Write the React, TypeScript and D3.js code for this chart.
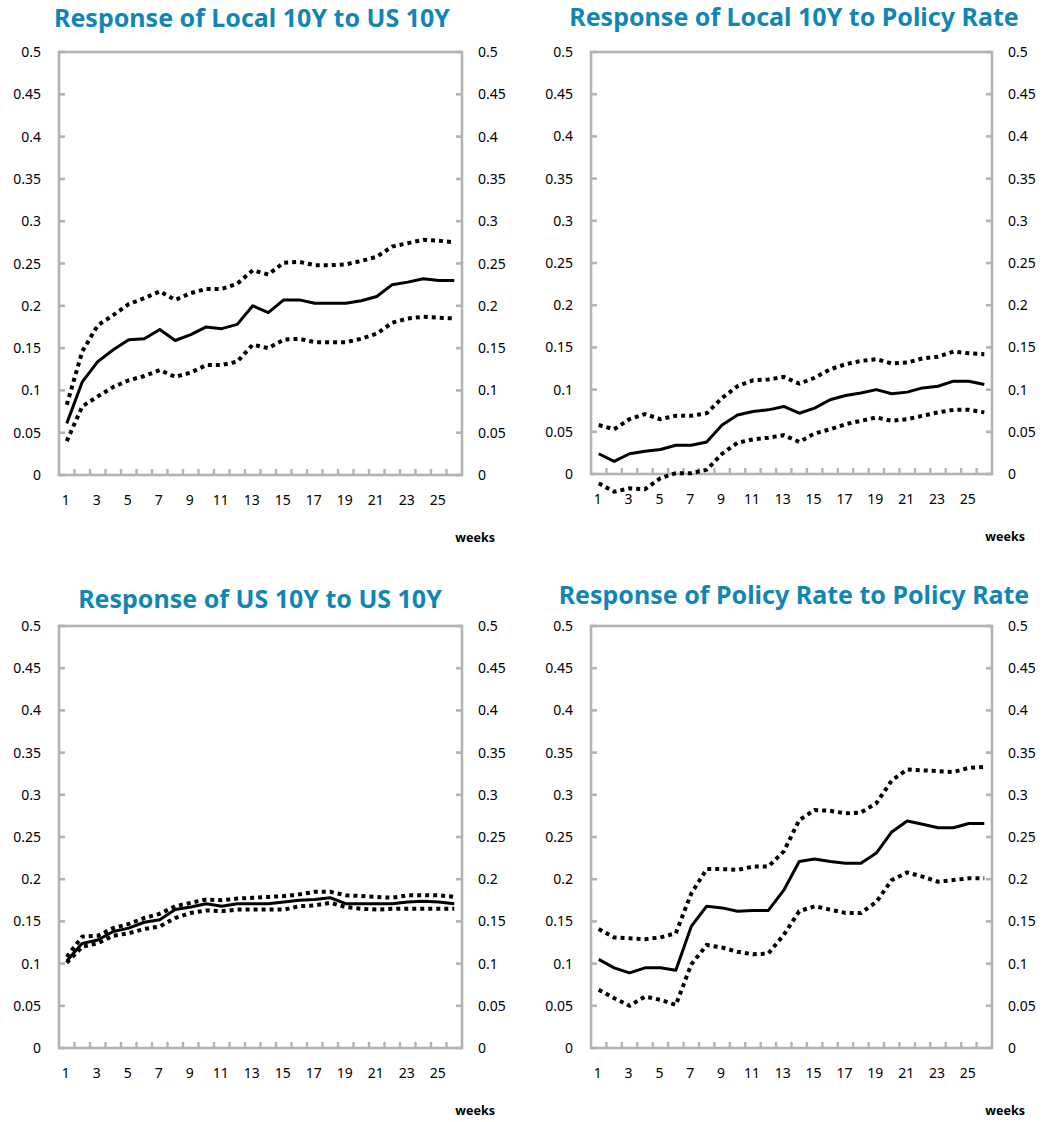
import React from "react";
import * as d3 from "d3";

// weeks after the shock
const weeks = [1, 2, 3, 4, 5, 6, 7, 8, 9, 10, 11, 12, 13, 14, 15, 16, 17, 18, 19, 20, 21, 22, 23, 24, 25, 26];
const weekLabels = [1, 3, 5, 7, 9, 11, 13, 15, 17, 19, 21, 23, 25];
const yTicks = [0, 0.05, 0.1, 0.15, 0.2, 0.25, 0.3, 0.35, 0.4, 0.45, 0.5];

// Response of Local 10Y to US 10Y
const local10yUs10y = [0.061, 0.110, 0.134, 0.148, 0.160, 0.161, 0.172, 0.159, 0.166, 0.175, 0.173, 0.178, 0.200, 0.192, 0.207, 0.207, 0.203, 0.203, 0.203, 0.206, 0.211, 0.225, 0.228, 0.232, 0.230, 0.230];
const local10yUs10yHi = [0.083, 0.146, 0.177, 0.189, 0.202, 0.209, 0.217, 0.207, 0.215, 0.220, 0.220, 0.226, 0.242, 0.237, 0.251, 0.252, 0.248, 0.248, 0.249, 0.253, 0.258, 0.270, 0.274, 0.278, 0.277, 0.275];
const local10yUs10yLo = [0.040, 0.081, 0.093, 0.104, 0.112, 0.117, 0.124, 0.116, 0.121, 0.130, 0.130, 0.134, 0.154, 0.150, 0.160, 0.161, 0.157, 0.157, 0.157, 0.161, 0.167, 0.180, 0.185, 0.187, 0.186, 0.185];

// Response of Local 10Y to Policy Rate
const local10yPolicy = [0.024, 0.015, 0.024, 0.027, 0.029, 0.034, 0.034, 0.038, 0.058, 0.070, 0.074, 0.076, 0.080, 0.072, 0.078, 0.088, 0.093, 0.096, 0.100, 0.095, 0.097, 0.102, 0.104, 0.110, 0.110, 0.106];
const local10yPolicyHi = [0.058, 0.053, 0.065, 0.071, 0.065, 0.069, 0.069, 0.072, 0.090, 0.104, 0.111, 0.112, 0.115, 0.107, 0.114, 0.124, 0.130, 0.134, 0.136, 0.131, 0.132, 0.137, 0.139, 0.145, 0.143, 0.142];
const local10yPolicyLo = [-0.011, -0.021, -0.017, -0.018, -0.005, 0.001, 0.001, 0.005, 0.024, 0.037, 0.041, 0.043, 0.046, 0.038, 0.048, 0.053, 0.059, 0.063, 0.067, 0.063, 0.065, 0.069, 0.073, 0.076, 0.076, 0.073];

// Response of US 10Y to US 10Y
const us10yUs10y = [0.103, 0.124, 0.128, 0.138, 0.142, 0.149, 0.152, 0.164, 0.167, 0.171, 0.168, 0.171, 0.171, 0.171, 0.173, 0.175, 0.176, 0.178, 0.171, 0.171, 0.171, 0.171, 0.173, 0.174, 0.173, 0.171];
const us10yUs10yHi = [0.108, 0.132, 0.133, 0.142, 0.147, 0.154, 0.159, 0.168, 0.172, 0.176, 0.175, 0.177, 0.178, 0.179, 0.180, 0.182, 0.185, 0.185, 0.181, 0.180, 0.179, 0.178, 0.181, 0.181, 0.181, 0.179];
const us10yUs10yLo = [0.101, 0.120, 0.124, 0.133, 0.136, 0.141, 0.144, 0.154, 0.160, 0.163, 0.162, 0.164, 0.164, 0.164, 0.164, 0.168, 0.169, 0.172, 0.167, 0.165, 0.164, 0.165, 0.165, 0.165, 0.165, 0.165];

// Response of Policy Rate to Policy Rate
const policyPolicy = [0.105, 0.095, 0.089, 0.095, 0.095, 0.092, 0.144, 0.168, 0.166, 0.162, 0.163, 0.163, 0.187, 0.221, 0.224, 0.221, 0.219, 0.219, 0.231, 0.256, 0.269, 0.265, 0.261, 0.261, 0.266, 0.266];
const policyPolicyHi = [0.141, 0.131, 0.130, 0.129, 0.131, 0.136, 0.183, 0.212, 0.212, 0.211, 0.215, 0.215, 0.233, 0.270, 0.282, 0.281, 0.278, 0.279, 0.290, 0.317, 0.330, 0.329, 0.328, 0.327, 0.332, 0.333];
const policyPolicyLo = [0.069, 0.059, 0.050, 0.061, 0.057, 0.051, 0.099, 0.122, 0.119, 0.114, 0.111, 0.112, 0.134, 0.162, 0.168, 0.164, 0.160, 0.160, 0.173, 0.199, 0.208, 0.203, 0.197, 0.199, 0.201, 0.201];

const AXIS = "#b3b3b3";
const TITLE = "#1186b5";
const FONT = "'Noto Sans', 'DejaVu Sans', sans-serif";

interface IPanel {
  title: string;
  mid: number[];
  hi: number[];
  lo: number[];
  left: number;
  right: number;
  top: number;
  bottom: number;
  titleX: number;
  titleY: number;
}

const panels: IPanel[] = [
  { title: "Response of Local 10Y to US 10Y", mid: local10yUs10y, hi: local10yUs10yHi, lo: local10yUs10yLo,
    left: 59, right: 462, top: 52, bottom: 475, titleX: 252, titleY: 27 },
  { title: "Response of Local 10Y to Policy Rate", mid: local10yPolicy, hi: local10yPolicyHi, lo: local10yPolicyLo,
    left: 591, right: 992, top: 52, bottom: 474, titleX: 794, titleY: 26 },
  { title: "Response of US 10Y to US 10Y", mid: us10yUs10y, hi: us10yUs10yHi, lo: us10yUs10yLo,
    left: 59, right: 462, top: 626, bottom: 1048, titleX: 260, titleY: 608 },
  { title: "Response of Policy Rate to Policy Rate", mid: policyPolicy, hi: policyPolicyHi, lo: policyPolicyLo,
    left: 591, right: 992, top: 626, bottom: 1048, titleX: 794, titleY: 604 },
];

function Panel({ p }: { p: IPanel }) {
  const x = d3.scaleBand<number>().domain(weeks).range([p.left, p.right]);
  const y = d3.scaleLinear().domain([0, 0.5]).range([p.bottom, p.top]);
  const cx = (w: number) => (x(w) as number) + x.bandwidth() / 2;

  const line = d3
    .line<number>()
    .x((d, i) => cx(weeks[i]))
    .y((d) => y(d));

  const label = { fontFamily: FONT, fontSize: 14 };

  return (
    <g>
      <text x={p.titleX} y={p.titleY} textAnchor="middle" fill={TITLE}
        style={{ fontFamily: FONT, fontWeight: 700, fontSize: 25 }}>
        {p.title}
      </text>

      {/* plot box */}
      <rect x={p.left} y={p.top} width={p.right - p.left} height={p.bottom - p.top}
        fill="none" stroke={AXIS} strokeWidth={2.6} />

      {/* y ticks both sides */}
      {yTicks.map((t) => (
        <g key={t}>
          <line x1={p.left} x2={p.left + 6} y1={y(t)} y2={y(t)} stroke={AXIS} strokeWidth={2.6} />
          <line x1={p.right - 6} x2={p.right} y1={y(t)} y2={y(t)} stroke={AXIS} strokeWidth={2.6} />
          <text x={p.left - 18} y={y(t) + 5} textAnchor="end" style={label}>{t}</text>
          <text x={p.right + 16} y={y(t) + 5} textAnchor="start" style={label}>{t}</text>
        </g>
      ))}

      {/* x ticks between categories */}
      {weeks.slice(1).map((w) => (
        <line key={w} x1={x(w)} x2={x(w)} y1={p.bottom} y2={p.bottom - 6} stroke={AXIS} strokeWidth={2.4} />
      ))}
      {weekLabels.map((w) => (
        <text key={w} x={cx(w) - 1} y={p.bottom + 30} textAnchor="middle" style={label}>{w}</text>
      ))}
      <text x={p.right + 33} y={p.bottom + 67} textAnchor="end"
        style={{ fontFamily: FONT, fontWeight: 700, fontSize: 12.5 }}>weeks</text>

      <path d={line(p.hi) ?? ""} fill="none" stroke="#000" strokeWidth={4} strokeDasharray="4 4" />
      <path d={line(p.lo) ?? ""} fill="none" stroke="#000" strokeWidth={4} strokeDasharray="4 4" />
      <path d={line(p.mid) ?? ""} fill="none" stroke="#000" strokeWidth={3} strokeLinejoin="round" />
    </g>
  );
}

export default function App() {
  return (
    <svg width={1047} height={1122} style={{ position: "absolute", left: 0, top: 0, background: "#fff" }}>
      {panels.map((p) => (
        <Panel key={p.title} p={p} />
      ))}
    </svg>
  );
}
